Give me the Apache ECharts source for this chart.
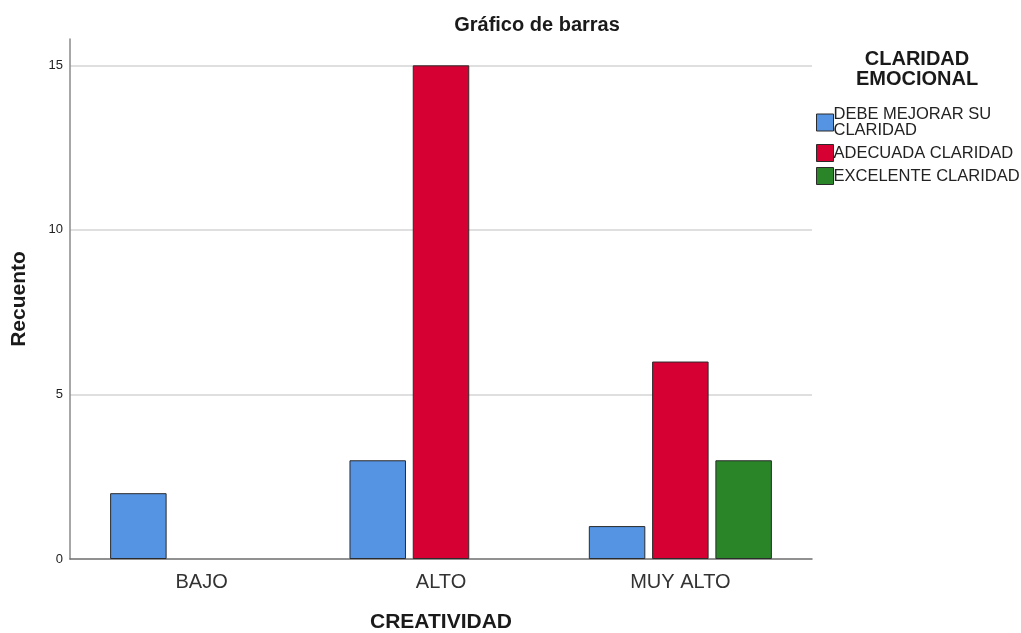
<!DOCTYPE html>
<html lang="es">
<head>
  <meta charset="UTF-8" />
  <title>Gráfico de barras</title>
  <style>
    * { padding: 0; margin: 0; }
    html, body { width: 100%; height: 100%; background: #fff; }
    #chart { width: 1021px; height: 633px; }
  </style>
</head>
<body>
  <div id="chart"></div>
  <script src="https://cdn.jsdelivr.net/npm/echarts@6/dist/echarts.min.js"></script>
  <script>
    // datos
    var categorias = ['BAJO', 'ALTO', 'MUY ALTO']
    var grupos = ['DEBE MEJORAR SU\nCLARIDAD', 'ADECUADA CLARIDAD', 'EXCELENTE CLARIDAD']
    var debeMejorar = [2, 3, 1]
    var adecuada = [null, 15, 6]
    var excelente = [null, null, 3]
    var colores = ['#5593e3', '#d60032', '#2a8529']

    var fuente = '"Liberation Sans", Arial, sans-serif'

    // la posición de la categoría es su índice en el eje
    function pares(valores) {
      var out = []
      valores.forEach(function (v, i) {
        if (v !== null) out.push([i, v])
      })
      return out
    }

    var series = [debeMejorar, adecuada, excelente].map(function (valores, k) {
      return {
        name: grupos[k],
        type: 'bar',
        data: pares(valores),
        barWidth: 56.5,
        barGap: '12%',
        itemStyle: {
          color: colores[k],
          borderColor: '#2b2b2b',
          borderWidth: 1
        }
      }
    })

    var myChart = echarts.init(document.getElementById('chart'))
    var option = {
      animation: false,
      textStyle: { fontFamily: fuente },
      title: [
        {
          text: 'Gráfico de barras',
          left: 532,
          top: 10,
          textAlign: 'center',
          textStyle: { fontFamily: fuente, fontSize: 20, fontWeight: 'bold', color: '#1a1a1a' }
        },
        {
          text: 'CLARIDAD\nEMOCIONAL',
          left: 912,
          top: 44,
          textAlign: 'center',
          textStyle: { fontFamily: fuente, fontSize: 20, fontWeight: 'bold', color: '#1a1a1a', lineHeight: 20 }
        }
      ],
      legend: {
        orient: 'vertical',
        left: 811,
        top: 101,
        itemWidth: 17,
        itemHeight: 17,
        itemGap: 5,
        icon: 'rect',
        selectedMode: false,
        itemStyle: { borderColor: '#2b2b2b', borderWidth: 1 },
        textStyle: { fontFamily: fuente, fontSize: 16.5, color: '#222', lineHeight: 16, padding: [0, 0, 0, -5] },
        data: grupos
      },
      grid: { left: 70, right: 209, top: 39, bottom: 74, outerBoundsMode: 'none' },
      xAxis: {
        type: 'value',
        min: -0.55,
        max: 2.55,
        name: 'CREATIVIDAD',
        nameLocation: 'middle',
        nameGap: 53,
        nameTextStyle: { fontFamily: fuente, fontSize: 21, fontWeight: 'bold', color: '#1a1a1a' },
        axisLine: { show: true, onZero: false, lineStyle: { color: '#6e6e6e', width: 1.5 } },
        axisTick: { show: false },
        splitLine: { show: false },
        axisLabel: {
          customValues: [0, 1, 2],
          formatter: function (v) { return categorias[v] },
          fontFamily: fuente,
          fontSize: 20,
          color: '#333',
          margin: 13
        }
      },
      yAxis: {
        type: 'value',
        min: 0,
        max: 15.8,
        interval: 5,
        name: 'Recuento',
        nameLocation: 'middle',
        nameGap: 40,
        nameTextStyle: { fontFamily: fuente, fontSize: 21, fontWeight: 'bold', color: '#1a1a1a' },
        axisLine: { show: true, onZero: false, lineStyle: { color: '#8a8a8a', width: 1.5 } },
        axisTick: { show: false },
        axisLabel: {
          showMaxLabel: false,
          formatter: function (v) { return v % 5 === 0 ? v : '' },
          fontFamily: fuente,
          fontSize: 13,
          color: '#222',
          margin: 7
        },
        splitLine: {
          show: true,
          showMinLine: false,
          showMaxLine: false,
          lineStyle: { color: '#d4d4d4', width: 1.5 }
        }
      },
      series: series
    }
    myChart.setOption(option)
    window.addEventListener('resize', function () {
      myChart.resize()
    })
  </script>
</body>
</html>
